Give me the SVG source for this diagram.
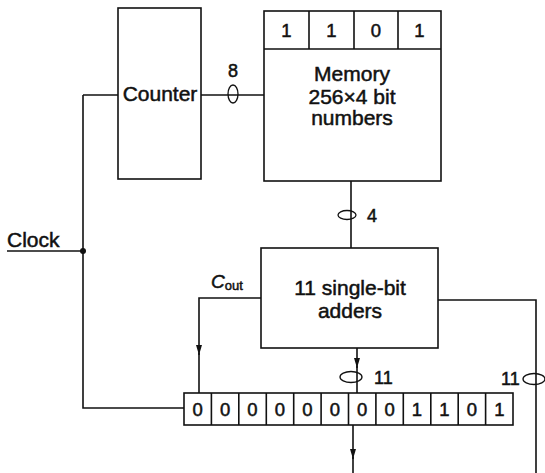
<svg xmlns="http://www.w3.org/2000/svg" width="545" height="473" viewBox="0 0 545 473">
<style>
.b{fill:#fff;stroke:#111;stroke-width:1.6}
.w{fill:none;stroke:#111;stroke-width:1.6}
.e{fill:none;stroke:#111;stroke-width:1.3}
.t{font-family:"Liberation Sans",Arial,sans-serif;fill:#111;stroke:#111;stroke-width:0.5}
.L{font-size:21px;text-anchor:middle}
.d{font-size:18.5px;text-anchor:middle}
.s{font-size:18px}
</style>
<defs>
<marker id="ar" viewBox="0 0 10 6" refX="10" refY="3" markerWidth="10" markerHeight="6" markerUnits="userSpaceOnUse" orient="auto">
<path d="M0,0 L10,3 L0,6 z" fill="#111"/>
</marker>
</defs>
<rect width="545" height="473" fill="#fff"/>
<g id="connectors">
<path class="w" d="M83,95 H118"/>
<path class="w" d="M83,95 V408 H184"/>
<path class="w" d="M7,251 H83"/>
<circle cx="83" cy="251" r="3" fill="#111"/>
<path class="w" d="M201,95 H264"/>
<ellipse class="e" cx="233" cy="94" rx="5" ry="9"/>
<path class="w" d="M351,181 V248"/>
<ellipse class="e" cx="347" cy="215" rx="9" ry="4.5"/>
<path class="w" d="M261,298 H199 V355" marker-end="url(#ar)"/>
<path class="w" d="M199,353 V393"/>
<path class="w" d="M357,348 V368" marker-end="url(#ar)"/>
<path class="w" d="M357,366 V393"/>
<ellipse class="e" cx="351" cy="377" rx="11" ry="5.5"/>
<path class="w" d="M353,425 V459" marker-end="url(#ar)"/>
<path class="w" d="M353,457 V473"/>
<path class="w" d="M438,300 H536 V473"/>
<ellipse class="e" cx="534" cy="379" rx="11" ry="5.5"/>
</g>
<g id="labels">
<text class="t" x="7" y="247" font-size="21">Clock</text>
<text class="t s" x="228" y="77" font-size="17">8</text>
<text class="t s" x="367" y="222">4</text>
<text class="t s" x="374" y="384">11</text>
<text class="t s" x="501" y="385">11</text>
<text class="t" x="211" y="288" font-size="19" font-style="italic">C<tspan font-size="13" font-style="normal" dy="2">out</tspan></text>
</g>
<g id="counter">
<rect class="b" x="118" y="8" width="83" height="171"/>
<text class="t L" x="160" y="101">Counter</text>
</g>
<g id="memory">
<rect class="b" x="264" y="11" width="177" height="170"/>
<path class="w" d="M264,49 H441 M309,11 V49 M354,11 V49 M398,11 V49"/>
<text class="t d" x="286.5" y="37">1</text>
<text class="t d" x="331.5" y="37">1</text>
<text class="t d" x="376" y="37">0</text>
<text class="t d" x="419.5" y="37">1</text>
<text class="t L" x="352" y="81">Memory</text>
<text class="t L" x="352" y="104">256×4 bit</text>
<text class="t L" x="352" y="125">numbers</text>
</g>
<g id="adders">
<rect class="b" x="261" y="248" width="177" height="100"/>
<text class="t L" x="350" y="295">11 single-bit</text>
<text class="t L" x="350" y="318">adders</text>
</g>
<g id="register">
<rect class="b" x="184" y="393" width="329" height="32"/>
<path class="w" d="M211.4,393V425M238.8,393V425M266.3,393V425M293.7,393V425M321.1,393V425M348.5,393V425M375.9,393V425M403.3,393V425M430.8,393V425M458.2,393V425M485.6,393V425"/>
<text class="t d" x="197.7" y="416">0</text>
<text class="t d" x="225.1" y="416">0</text>
<text class="t d" x="252.5" y="416">0</text>
<text class="t d" x="280" y="416">0</text>
<text class="t d" x="307.4" y="416">0</text>
<text class="t d" x="334.8" y="416">0</text>
<text class="t d" x="362.2" y="416">0</text>
<text class="t d" x="389.6" y="416">0</text>
<text class="t d" x="417" y="416">1</text>
<text class="t d" x="444.5" y="416">1</text>
<text class="t d" x="471.9" y="416">0</text>
<text class="t d" x="499.3" y="416">1</text>
</g>
</svg>
